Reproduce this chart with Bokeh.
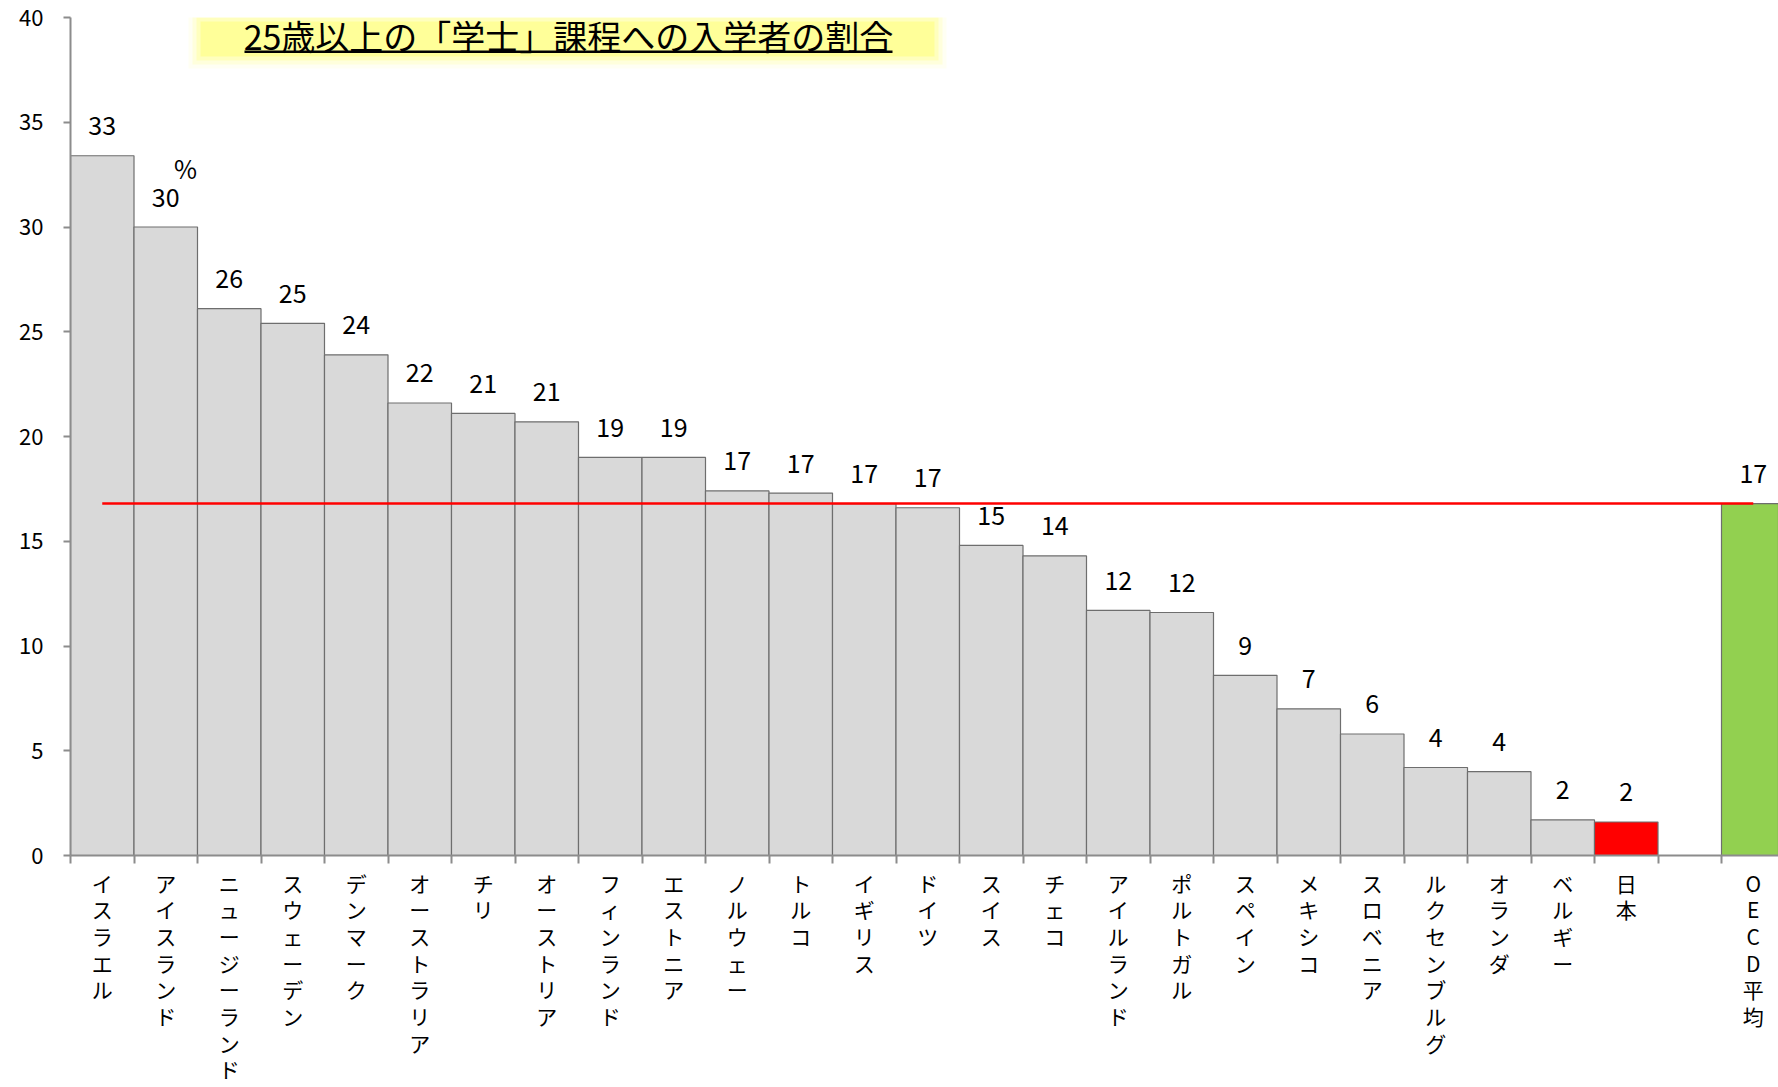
from bokeh.plotting import figure
from bokeh.layouts import column
from bokeh.models import (ColumnDataSource, Range1d, FixedTicker, Label,
                          BoxAnnotation, CustomJSTickFormatter)
from bokeh.embed import file_html
from bokeh.resources import INLINE
from bokeh.core.properties import value

# ---------------- data ----------------
countries = ["イスラエル", "アイスランド", "ニュージーランド", "スウェーデン", "デンマーク",
             "オーストラリア", "チリ", "オーストリア", "フィンランド", "エストニア",
             "ノルウェー", "トルコ", "イギリス", "ドイツ", "スイス", "チェコ",
             "アイルランド", "ポルトガル", "スペイン", "メキシコ", "スロベニア",
             "ルクセンブルグ", "オランダ", "ベルギー", "日本"]
shares = [33.4, 30.0, 26.1, 25.4, 23.9, 21.6, 21.1, 20.7, 19.0, 19.0,
          17.4, 17.3, 16.8, 16.6, 14.8, 14.3, 11.7, 11.6, 8.6, 7.0,
          5.8, 4.2, 4.0, 1.7, 1.6]
oecd_label = "OECD平均"
oecd_avg = 16.8
highlight = "日本"
y_ticks = [0, 5, 10, 15, 20, 25, 30, 35, 40]
title_text = "25歳以上の「学士」課程への入学者の割合"
unit_text = "%"

# ---------------- layout constants ----------------
FONT = "Noto Sans CJK JP"
FIG_W = 1778
ZERO_PX = 855              # pixel row of y=0
BORDER_B = 14              # room under the axis for the "0" tick label
TOP_H = ZERO_PX + BORDER_B
BOT_H = 1087 - TOP_H       # category label strip
BORDER_L, BORDER_T = 70, 17
FRAME_W = FIG_W - BORDER_L
FRAME_H = ZERO_PX - BORDER_T
SLOT_PX = 63.5
X0 = 0.5
X1 = X0 + FRAME_W / SLOT_PX
Y0, Y1 = 0, 40
PX_X = 1.0 / SLOT_PX
PX_Y = (Y1 - Y0) / FRAME_H

GRAY = "#D9D9D9"
EDGE = "#6E6E6E"
AXIS = "#8C8C8C"

# positions: countries 1..N, one empty slot, then OECD
n = len(countries)
xs = list(range(1, n + 1)) + [n + 2]
names = countries + [oecd_label]
vals = shares + [oecd_avg]
colors = []
for nm in names:
    if nm == highlight:
        colors.append("#FF0000")
    elif nm == oecd_label:
        colors.append("#92D050")
    else:
        colors.append(GRAY)

src = ColumnDataSource(dict(
    x=xs, top=vals, color=colors,
    vlabel=[f"{v:.0f}" for v in vals],
    name=["\n".join(list(nm)) for nm in names],
    ny=[2] * len(xs),
))

x_range = Range1d(X0, X1)
p = figure(width=FIG_W, height=TOP_H, output_backend="svg", toolbar_location=None,
           x_range=x_range, y_range=Range1d(Y0, Y1),
           min_border_left=BORDER_L, min_border_right=0,
           min_border_top=BORDER_T, min_border_bottom=BORDER_B)
p.outline_line_color = None
p.xgrid.visible = False
p.ygrid.visible = False
p.background_fill_color = "white"


def ix(px):
    return X0 + (px - BORDER_L) * PX_X


def iy(py):
    return Y1 - (py - BORDER_T) * PX_Y


# ---- title box (soft yellow glow) ----
box_l, box_r, box_t, box_b = 200, 934, 21, 56
for grow, alpha in [(12, 0.12), (8, 0.25), (4, 0.45), (0, 1.0)]:
    p.add_layout(BoxAnnotation(left=ix(box_l - grow), right=ix(box_r + grow),
                               top=iy(box_t - grow), bottom=iy(box_b + grow),
                               fill_color="#FFFF99", fill_alpha=alpha, line_color=None,
                               level="underlay"))

# ---- bars ----
p.vbar(x="x", top="top", width=1.0, bottom=0, source=src,
       fill_color="color", line_color=EDGE, line_width=1.2)

# ---- OECD average line ----
p.line(x=[xs[0], xs[-1]], y=[oecd_avg, oecd_avg], line_color="#FF0000", line_width=2.5)

# ---- value labels ----
p.text(x="x", y="top", text="vlabel", source=src, text_align="center",
       text_baseline="middle", y_offset=-30, text_font=value(FONT),
       text_font_size="25px", text_color="#000000")

# ---- unit label ----
p.add_layout(Label(x=2.31, y=32.8, text=unit_text, text_align="center",
                   text_baseline="middle", text_font=FONT, text_font_size="25px",
                   text_color="#000000"))

# ---- title ----
p.add_layout(Label(x=ix(568), y=iy(35), text=title_text, text_align="center",
                   text_baseline="middle", text_font=FONT, text_font_size="34px",
                   text_color="#000000"))
p.add_layout(BoxAnnotation(left=ix(244), right=ix(892), top=iy(50), bottom=iy(52.5),
                           fill_color="#000000", fill_alpha=1.0, line_color=None))

# ---- axes ----
xa = p.xaxis[0]
xa.ticker = FixedTicker(ticks=[i + 0.5 for i in range(0, n + 3)], minor_ticks=[])
xa.formatter = CustomJSTickFormatter(code="return ''")
xa.axis_line_color = AXIS
xa.axis_line_width = 2
xa.major_tick_line_color = AXIS
xa.major_tick_line_width = 2
xa.major_tick_out = 8
xa.major_tick_in = 0
xa.major_label_standoff = 0
xa.major_label_text_font_size = "1px"
xa.minor_tick_line_color = None

ya = p.yaxis[0]
ya.ticker = FixedTicker(ticks=y_ticks, minor_ticks=[])
ya.axis_line_color = AXIS
ya.axis_line_width = 2
ya.major_tick_line_color = AXIS
ya.major_tick_line_width = 2
ya.major_tick_out = 7
ya.major_tick_in = 0
ya.minor_tick_line_color = None
ya.major_label_standoff = 20
ya.major_label_text_font = FONT
ya.major_label_text_font_size = "22px"
ya.major_label_text_color = "#000000"

# ---- category label strip (shares the x scale) ----
p2 = figure(width=FIG_W, height=BOT_H, output_backend="svg", toolbar_location=None,
            x_range=x_range, y_range=Range1d(-BOT_H, 0),
            x_axis_location=None, y_axis_location=None,
            min_border_left=BORDER_L, min_border_right=0,
            min_border_top=0, min_border_bottom=0)
p2.outline_line_color = None
p2.xgrid.visible = False
p2.ygrid.visible = False
p2.text(x="x", y="ny", text="name", source=src, text_align="center",
        text_baseline="top", text_font=value(FONT), text_font_size="21px",
        text_line_height=0.89, text_color="#000000")

layout = column(p, p2, spacing=0)
open("out.html", "w").write(file_html(layout, INLINE))
